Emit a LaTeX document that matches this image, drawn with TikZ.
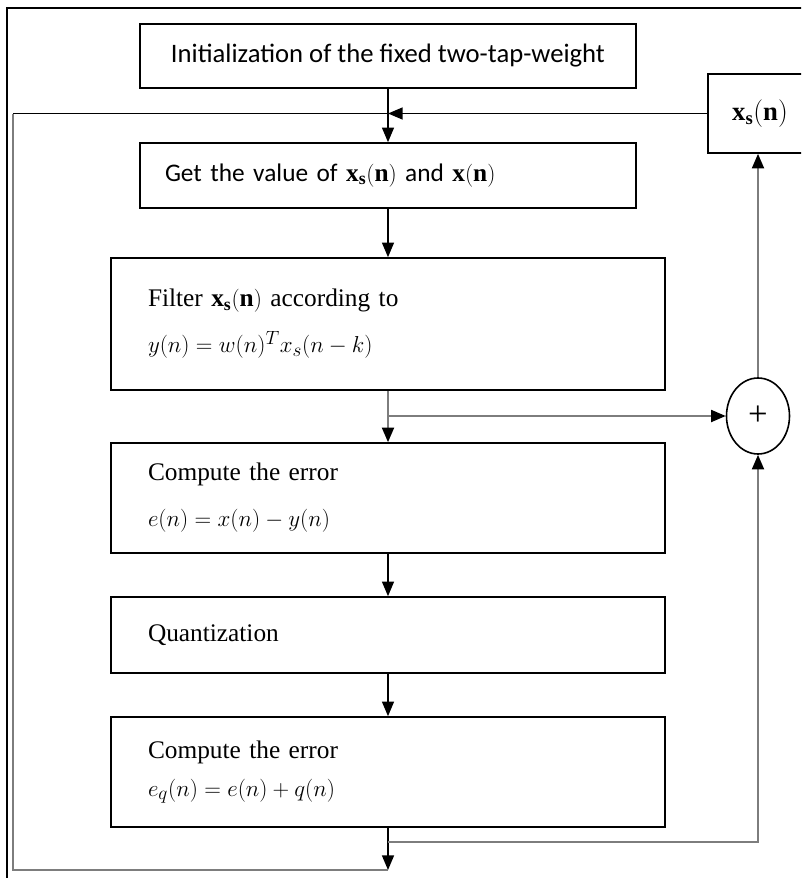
\documentclass[tikz,border=0pt]{standalone}
\usepackage{amsmath}
\usepackage{fontspec}
\setmainfont{Liberation Serif}
\newfontfamily\calibri{Carlito}
\usetikzlibrary{positioning,arrows.meta,shapes.geometric}
\definecolor{linegray}{RGB}{125,125,125}

\begin{document}
\begin{tikzpicture}[x=0.75pt,y=-0.75pt,
  stepbox/.style={draw,line width=1.2pt,minimum width=415.5pt,inner xsep=27.75pt,
    text width=360pt,align=left,font=\fontsize{19}{34.5}\selectfont},
  topbox/.style={draw,line width=1.2pt,minimum width=372pt,minimum height=48pt,
    font=\calibri\fontsize{20}{24}\selectfont},
  getbox/.style={draw,line width=1.2pt,minimum width=372pt,minimum height=48.75pt,
    inner xsep=18.75pt,text width=334.5pt,align=left,font=\calibri\fontsize{19}{23}\selectfont},
  xsnode/.style={draw,line width=1.2pt,minimum width=78pt,minimum height=59.25pt,
    font=\fontsize{20}{24}\selectfont},
  sumnode/.style={draw,ellipse,line width=1.2pt,minimum width=47.25pt,minimum height=57pt,
    inner sep=0pt,font=\fontsize{26}{26}\selectfont},
  flow/.style={line width=1.1pt,-{Triangle[length=11pt,width=9pt]}},
  feed/.style={draw=linegray,line width=1.6pt,-{Triangle[length=11pt,width=9pt,color=black]}},
  loopline/.style={draw=linegray,line width=2pt}]
\useasboundingbox (0,0) rectangle (801,878);
\clip (0,0) rectangle (801,878);
% outer frame (cut by the page edge)
\draw[line width=1.3pt] (7,900) -- (7,8) -- (830,8);
% steps
\node[topbox] (init) at (388,56) {Initialization of the fixed two-tap-weight};
\node[getbox] (getval) at (388,175.5) {Get the value of $\mathbf{x}_{\mathbf{s}}(\mathbf{n})$ and $\mathbf{x}(\mathbf{n})$};
\node[stepbox,minimum height=99pt] (filt) at (388,324)
  {Filter $\mathbf{x}_{\mathbf{s}}(\mathbf{n})$ according to\\ $y(n) = w(n)^T x_s(n-k)$};
\node[stepbox,minimum height=82.5pt] (err) at (388,498)
  {Compute the error\\ $e(n) = x(n) - y(n)$};
\node[stepbox,minimum height=57pt] (quant) at (388,635) {Quantization};
\node[stepbox,minimum height=82.5pt,font=\fontsize{19}{28.5}\selectfont] (errq) at (388,772)
  {Compute the error\\ $e_q(n) = e(n) + q(n)$};
\node[xsnode] (xs) at (760,113.5) {$\mathbf{x}_{\mathbf{s}}(\mathbf{n})$};
\node[sumnode] (sum) at (758,416) {+};
% junctions
\coordinate (fb) at (getval.north |- xs.west);
\coordinate (split) at (filt.south |- sum.west);
\coordinate (tap) at (388,842);
\coordinate (bot) at (388,870);
\coordinate (lb) at (13,870);
\coordinate (lt) at (13,113.5);
% main flow
\draw[flow] (init) -- (getval);
\draw[flow] (xs.west) -- (fb);
\draw[flow] (getval) -- (filt);
\draw[feed] (filt) -- (err);
\draw[feed] (split) -- (sum.west);
\draw[flow] (err) -- (quant);
\draw[flow] (quant) -- (errq);
\draw[flow] (errq.south) -- (bot);
% feedback
\draw[feed] (tap) -| (sum.south);
\draw[feed] (sum.north) -- (sum.north |- xs.south);
\draw[loopline] (bot) -- (lb) -- (lt);
\draw[line width=1.1pt] (lt) -- (fb);
\end{tikzpicture}
\end{document}
